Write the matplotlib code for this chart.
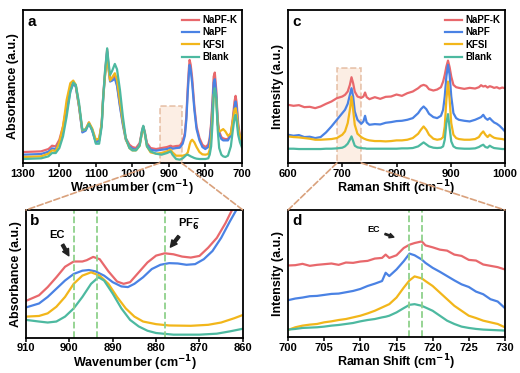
import matplotlib
matplotlib.use("Agg")
import matplotlib.pyplot as plt
from matplotlib.patches import Rectangle, ConnectionPatch

plt.rcParams['font.family'] = ['Liberation Sans', 'DejaVu Sans']
plt.rcParams['font.weight'] = 'bold'
plt.rcParams['axes.labelweight'] = 'bold'

labels = ["NaPF-K", "NaPF", "KFSI", "Blank"]
colors = ["#E8686C", "#4A82E4", "#F2B61A", "#4DB9A0"]

# ---- panel a: FTIR, full range ----
ir_x = [1300, 1250, 1230, 1220, 1210, 1200, 1190, 1180, 1170, 1162,
        1155, 1146, 1137, 1128, 1119, 1110, 1100, 1091, 1084, 1080,
        1075, 1069, 1065, 1061, 1055, 1048, 1042, 1034, 1026, 1018,
        1008, 1000, 990, 980, 973, 970, 966, 960, 950, 935,
        920, 905, 895, 890, 880, 870, 862, 856, 852, 848,
        845, 843, 840, 836, 830, 824, 816, 808, 800, 792,
        788, 784, 780, 777, 774, 770, 766, 762, 756, 751,
        745, 738, 730, 725, 720, 717, 714, 710, 705, 700]
ir_napfk = [33, 35, 42, 52, 50, 70, 110, 170, 225, 243,
            232, 170, 95, 100, 122, 100, 65, 70, 120, 200,
            270, 342, 290, 250, 255, 262, 238, 175, 120, 75,
            55, 48, 45, 60, 100, 110, 95, 60, 45, 42,
            45, 48, 52, 49, 51, 52, 65, 90, 140, 230,
            285, 310, 295, 255, 170, 110, 75, 55, 48, 55,
            75, 120, 195, 260, 272, 220, 130, 95, 78, 74,
            72, 72, 90, 130, 185, 202, 180, 120, 80, 60]
ir_napf = [25, 27, 34, 44, 42, 62, 98, 155, 215, 238,
           230, 168, 92, 97, 119, 97, 62, 67, 115, 192,
           262, 335, 282, 245, 248, 254, 232, 170, 115, 70,
           50, 43, 40, 55, 95, 105, 90, 55, 40, 37,
           40, 42, 46, 43, 45, 46, 58, 82, 130, 215,
           270, 295, 280, 240, 160, 102, 68, 48, 42, 48,
           68, 110, 180, 242, 252, 205, 120, 88, 72, 68,
           68, 68, 84, 120, 168, 185, 165, 110, 74, 55]
ir_kfsi = [18, 20, 28, 38, 36, 62, 110, 190, 240, 248,
           235, 172, 98, 102, 122, 104, 70, 74, 118, 195,
           262, 320, 282, 248, 258, 270, 250, 185, 125, 72,
           45, 38, 38, 52, 95, 105, 90, 50, 32, 28,
           30, 35, 40, 32, 22, 22, 22, 24, 26, 32,
           45, 55, 65, 70, 62, 48, 33, 26, 25, 27,
           40, 75, 150, 205, 218, 190, 115, 95, 98, 102,
           95, 82, 88, 125, 160, 165, 145, 105, 80, 68]
ir_blank = [12, 14, 20, 30, 30, 45, 80, 140, 215, 242,
            235, 180, 100, 100, 118, 100, 58, 58, 110, 195,
            275, 345, 300, 265, 278, 298, 282, 220, 140, 75,
            45, 38, 38, 52, 100, 112, 92, 50, 35, 28,
            25, 30, 35, 25, 12, 10, 14, 20, 24, 25,
            23, 22, 20, 18, 15, 13, 12, 12, 12, 14,
            25, 50, 125, 205, 225, 195, 100, 45, 25, 20,
            18, 22, 50, 95, 135, 145, 125, 85, 62, 48]

# ---- panel b: FTIR zoom 910-860 ----
b_x_red = [910, 907, 905, 903, 901, 899, 897, 896, 894.5, 893, 891, 889, 887.5, 886, 884,
           882, 880, 878, 876, 874, 872, 870, 868, 866, 864, 862.5, 861]
b_red = [113, 130, 155, 185, 217, 233, 233, 237, 247, 240, 203, 172, 165, 170, 200,
         230, 251, 258, 255, 248, 245, 250, 275, 305, 350, 390, 420]
b_x_blue = [910, 907, 905, 903, 901, 899, 897, 895.5, 894, 892, 890, 888, 886.5, 885, 883,
            881, 879, 877, 875, 873, 871, 869, 867, 865, 863, 861.5, 860.5]
b_blue = [93, 105, 125, 150, 175, 195, 205, 207, 203, 190, 170, 157, 155, 165, 185,
          210, 223, 228, 227, 223, 225, 240, 265, 305, 355, 390, 420]
b_x_kfsi = [910, 907, 905, 903, 901, 899, 897, 895, 893, 891, 889, 887, 885, 883, 880,
            877, 872, 868, 865, 862, 860]
b_kfsi = [65, 67, 75, 95, 125, 165, 190, 200, 190, 165, 125, 90, 65, 50, 42,
          38, 37, 40, 47, 60, 70]
b_x_blank = [910, 907, 905, 903, 901, 899, 897, 895, 893.3, 892, 890, 888, 886, 884, 882,
             880, 876, 870, 866, 863, 860]
b_blank = [55, 50, 47, 50, 65, 90, 125, 165, 185, 175, 135, 90, 55, 35, 22,
           15, 10, 10, 13, 20, 28]
b_marks = [899.0, 893.6, 878.0]

# ---- panel c: Raman 600-1000 ----
ra_x = [600, 610, 620, 630, 640, 650, 660, 670, 680, 690, 700, 705, 710, 714, 717, 720, 723,
        728, 735, 739, 742, 745, 750, 760, 770, 780, 790, 800, 810, 820, 830, 840, 845, 850,
        855, 860, 868, 875, 882, 886, 889, 892, 895, 898, 901, 905, 910, 915, 925, 935, 945,
        952, 956, 960, 964, 968, 972, 976, 980, 985, 990, 995, 1000]
ra_napfk = [175, 172, 174, 168, 169, 165, 170, 178, 185, 195, 200, 205, 215, 235, 258, 240, 215,
            200, 196, 200, 212, 198, 192, 198, 193, 199, 200, 206, 202, 210, 215, 225, 232, 235,
            232, 222, 218, 221, 228, 245, 265, 290, 308, 288, 260, 235, 228, 226, 223, 226, 224,
            228, 234, 230, 232, 227, 231, 229, 226, 228, 224, 227, 225]
ra_napf = [85, 82, 84, 78, 79, 75, 78, 92, 110, 130, 150, 160, 178, 205, 225, 200, 155,
           130, 118, 125, 142, 122, 115, 117, 116, 121, 123, 126, 127, 130, 135, 150, 162, 170,
           162, 148, 138, 135, 142, 160, 200, 260, 295, 265, 200, 150, 135, 130, 127, 125, 130,
           135, 138, 145, 135, 130, 135, 128, 122, 118, 112, 104, 95]
ra_kfsi = [80, 78, 77, 75, 73, 70, 70, 71, 72, 75, 85, 95, 120, 160, 200, 160, 115,
           88, 78, 74, 72, 70, 68, 66, 66, 65, 66, 68, 68, 70, 75, 88, 100, 110,
           100, 85, 73, 70, 72, 78, 110, 190, 245, 190, 120, 85, 75, 72, 70, 70, 72,
           78, 88, 95, 85, 78, 85, 80, 76, 74, 73, 72, 70]
ra_blank = [43, 43, 42, 42, 42, 42, 42, 43, 43, 44, 46, 50, 58, 70, 80, 66, 52,
            47, 45, 44, 44, 43, 43, 43, 43, 43, 43, 43, 44, 44, 45, 50, 56, 62,
            56, 50, 46, 45, 46, 50, 70, 120, 147, 105, 65, 50, 45, 44, 43, 43, 44,
            48, 52, 55, 48, 46, 52, 48, 45, 44, 43, 42, 42]

# ---- panel d: Raman zoom 700-730 ----
d_x = [700, 701, 702, 703, 704, 705, 706, 707, 708, 709, 710, 711, 712, 713, 713.5, 714, 715,
       716, 716.8, 717.5, 718.5, 719, 720, 721, 722, 723, 724, 725, 726, 727, 728, 729, 730]
d_napfk = [217, 218, 222, 216, 219, 221, 223, 219, 226, 225, 229, 231, 238, 240, 250, 240, 248,
           270, 280, 285, 290, 278, 272, 265, 262, 250, 246, 234, 232, 220, 216, 212, 205]
d_napf = [112, 117, 120, 124, 125, 128, 131, 132, 136, 140, 146, 155, 162, 170, 195, 185, 205,
          230, 253, 248, 235, 225, 210, 198, 185, 172, 160, 152, 138, 130, 115, 108, 88]
d_kfsi = [22, 30, 35, 38, 40, 45, 48, 52, 55, 60, 65, 72, 80, 90, 95, 100, 120,
          150, 172, 184, 178, 170, 155, 135, 115, 95, 80, 65, 58, 50, 45, 40, 30]
d_blank = [23, 25, 28, 29, 30, 32, 35, 37, 40, 43, 48, 52, 55, 60, 62, 65, 75,
           88, 98, 100, 95, 90, 80, 65, 50, 40, 32, 28, 25, 23, 22, 21, 20]
d_marks = [716.7, 718.5]

box_c = "#D9A17C"
mark_c = "#8FD18B"

fig = plt.figure(figsize=(5.2, 3.73), dpi=100)
ax_a = fig.add_axes([0.044, 0.563, 0.421, 0.41])
ax_b = fig.add_axes([0.050, 0.094, 0.417, 0.343])
ax_c = fig.add_axes([0.554, 0.563, 0.417, 0.41])
ax_d = fig.add_axes([0.554, 0.096, 0.417, 0.341])


def style(ax, letter, xlabel, ylabel, lpad=0):
    for s in ax.spines.values():
        s.set_linewidth(1.3)
    ax.set_yticks([])
    ax.tick_params(axis='x', direction='out', length=3, width=1.1, labelsize=8, pad=1)
    for t in ax.get_xticklabels():
        t.set_fontweight('bold')
    ax.set_xlabel(xlabel, fontsize=9, fontweight='bold', labelpad=lpad)
    ax.set_ylabel(ylabel, fontsize=9, fontweight='bold', labelpad=3)
    ax.text(0.02, 0.97, letter, transform=ax.transAxes, fontsize=11, fontweight='bold',
            va='top', ha='left')


def legend(ax):
    leg = ax.legend(loc='upper right', frameon=False, fontsize=7, handlelength=1.8,
                    borderaxespad=0.1, labelspacing=0.25, handletextpad=0.3)
    for t in leg.get_texts():
        t.set_fontweight('bold')


# panel a
for ys, c, lb in zip([ir_napfk, ir_napf, ir_kfsi, ir_blank], colors, labels):
    ax_a.plot(ir_x, ys, color=c, lw=1.6, label=lb)
ax_a.set_xlim(1300, 700)
ax_a.set_ylim(0, 460)
ax_a.set_xticks([1300, 1200, 1100, 1000, 900, 800, 700])
ax_a.add_patch(Rectangle((865, 0), 60, 172, facecolor="#FBE3D3", alpha=0.6,
                         edgecolor=box_c, ls='--', lw=1.2, zorder=0))
style(ax_a, "a", "Wavenumber (cm$^{\\mathbf{-1}}$)", "Absorbance (a.u.)")
legend(ax_a)

# panel b
for xs, ys, c in zip([b_x_red, b_x_blue, b_x_kfsi, b_x_blank],
                     [b_red, b_blue, b_kfsi, b_blank], colors):
    ax_b.plot(xs, ys, color=c, lw=1.6)
for m in b_marks:
    ax_b.axvline(m, color=mark_c, ls='--', lw=1.3)
ax_b.set_xlim(910, 860)
ax_b.set_ylim(0, 390)
ax_b.set_xticks([910, 900, 890, 880, 870, 860])
style(ax_b, "b", "Wavenumber (cm$^{\\mathbf{-1}}$)", "Absorbance (a.u.)", lpad=-0.3)
arrow = dict(arrowstyle='simple,head_width=0.6,head_length=0.6,tail_width=0.25', color='#222222')
ax_b.annotate("EC", xy=(899.8, 243), xytext=(902.9, 300), fontsize=8, fontweight='bold',
              ha='center', va='bottom', arrowprops=arrow)
ax_b.annotate("PF$_\\mathbf{6}^{\\mathbf{-}}$", xy=(877.1, 270), xytext=(872.5, 325),
              fontsize=8, fontweight='bold', ha='center', va='bottom', arrowprops=arrow)

# panel c
for ys, c, lb in zip([ra_napfk, ra_napf, ra_kfsi, ra_blank], colors, labels):
    ax_c.plot(ra_x, ys, color=c, lw=1.6, label=lb)
ax_c.set_xlim(600, 1000)
ax_c.set_ylim(0, 460)
ax_c.set_xticks([600, 700, 800, 900, 1000])
ax_c.add_patch(Rectangle((690, 0), 45, 285, facecolor="#FBE3D3", alpha=0.6,
                         edgecolor=box_c, ls='--', lw=1.2, zorder=0))
style(ax_c, "c", "Raman Shift (cm$^{\\mathbf{-1}}$)", "Intensity (a.u.)")
legend(ax_c)

# panel d
for ys, c in zip([d_napfk, d_napf, d_kfsi, d_blank], colors):
    ax_d.plot(d_x, ys, color=c, lw=1.6)
for m in d_marks:
    ax_d.axvline(m, color=mark_c, ls='--', lw=1.3)
ax_d.set_xlim(700, 730)
ax_d.set_ylim(0, 385)
ax_d.set_xticks([700, 705, 710, 715, 720, 725, 730])
style(ax_d, "d", "Raman Shift (cm$^{\\mathbf{-1}}$)", "Intensity (a.u.)", lpad=-0.3)
ax_d.annotate("EC", xy=(715.0, 300), xytext=(711.8, 325), fontsize=6.5, fontweight='bold',
              ha='center', va='center',
              arrowprops=dict(arrowstyle='simple,head_width=0.5,head_length=0.5,tail_width=0.15',
                              color='#222222'))

# dashed connectors from the shaded boxes to the zoomed panels
for (xa, fb), src, dst in [((925, 0), ax_a, ax_b), ((865, 1), ax_a, ax_b),
                           ((690, 0), ax_c, ax_d), ((735, 1), ax_c, ax_d)]:
    con = ConnectionPatch(xyA=(xa, 0), coordsA=src.transData, xyB=(fb, 1),
                          coordsB=dst.transAxes, color=box_c, ls='--', lw=1.2)
    fig.add_artist(con)

fig.savefig("out.png", dpi=100)
